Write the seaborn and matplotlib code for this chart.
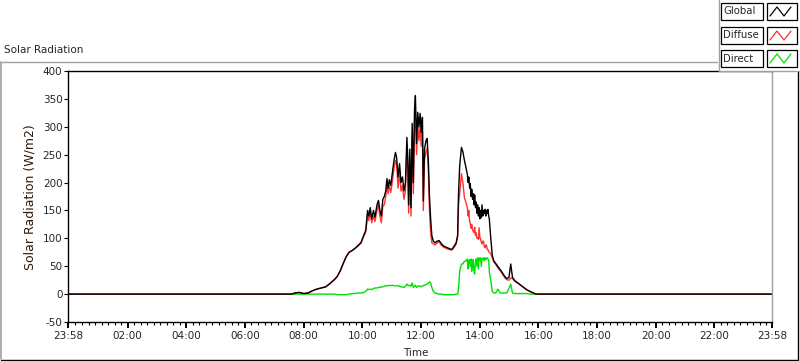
import matplotlib
matplotlib.use("Agg")
import matplotlib.pyplot as plt
from matplotlib.lines import Line2D
from matplotlib.patches import Rectangle
import seaborn as sns
import pandas as pd

# ---- data (hours of day, W/m2) ----
hours = [-0.033, 7.60, 7.70, 7.85, 8.00, 8.15, 8.30, 8.45, 8.60, 8.75, 8.90, 9.05, 9.15, 9.25,
         9.35, 9.45, 9.55, 9.65, 9.75, 9.85, 9.95, 10.05, 10.12, 10.18, 10.22, 10.27, 10.32,
         10.38, 10.43, 10.50, 10.55, 10.60, 10.65, 10.70, 10.75, 10.80, 10.84, 10.88, 10.92,
         10.97, 11.02, 11.08, 11.13, 11.17, 11.22, 11.27, 11.32, 11.37, 11.42, 11.47, 11.52,
         11.55, 11.58, 11.62, 11.66, 11.70, 11.74, 11.78, 11.81, 11.85, 11.89, 11.93, 11.97,
         12.01, 12.05, 12.08, 12.12, 12.17, 12.21, 12.25, 12.29, 12.33, 12.37, 12.42, 12.48,
         12.55, 12.62, 12.70, 12.78, 12.86, 12.95, 13.05, 13.12, 13.20, 13.25, 13.28, 13.32,
         13.38, 13.43, 13.48, 13.53, 13.58, 13.61, 13.63, 13.66, 13.68, 13.71, 13.73, 13.76,
         13.78, 13.81, 13.83, 13.86, 13.88, 13.91, 13.93, 13.96, 13.98, 14.01, 14.03, 14.06,
         14.08, 14.11, 14.13, 14.16, 14.18, 14.21, 14.23, 14.26, 14.28, 14.31, 14.33, 14.38,
         14.43, 14.48, 14.55, 14.62, 14.70, 14.78, 14.85, 14.92, 15.00, 15.06, 15.12, 15.20,
         15.30, 15.45, 15.60, 15.75, 15.92, 23.967]

global_rad = [0, 0, 2, 3, 1, 2, 6, 9, 11, 13, 19, 26, 32, 42,
              55, 67, 75, 78, 82, 87, 92, 105, 115, 150, 140, 155, 135,
              150, 138, 160, 168, 150, 140, 170, 175, 185, 207, 190, 205,
              195, 215, 240, 254, 245, 210, 234, 200, 210, 185, 200, 281,
              245, 160, 260, 155, 306, 200, 330, 356, 270, 326, 300, 324,
              290, 317, 167, 260, 275, 279, 241, 175, 135, 105, 95, 92,
              95, 96, 90, 86, 84, 82, 80, 85, 92, 105, 180, 230,
              263, 255, 240, 228, 215, 200, 210, 190, 198, 175, 188, 170,
              180, 160, 178, 155, 165, 145, 160, 140, 155, 135, 150, 137,
              160, 140, 150, 145, 152, 140, 150, 145, 152, 140, 135, 100,
              70, 60, 55, 50, 44, 38, 32, 28, 30, 54, 30, 24,
              20, 14, 8, 4, 0, 0]

diffuse_rad = [0, 0, 2, 3, 1, 2, 6, 9, 11, 13, 19, 26, 32, 42,
               55, 67, 75, 78, 82, 86, 91, 104, 112, 143, 132, 147, 128,
               140, 130, 150, 160, 140, 128, 158, 160, 175, 195, 180, 195,
               182, 200, 225, 240, 232, 190, 218, 185, 195, 170, 185, 262,
               230, 145, 245, 140, 285, 180, 310, 324, 250, 305, 275, 300,
               265, 290, 150, 240, 255, 262, 225, 150, 110, 92, 90, 88,
               92, 94, 87, 84, 82, 80, 79, 83, 90, 104, 160, 180,
               216, 200, 173, 165, 155, 140, 150, 130, 126, 118, 125, 115,
               113, 110, 120, 105, 110, 100, 101, 98, 119, 100, 100, 92,
               90, 95, 95, 85, 83, 88, 88, 80, 80, 76, 75, 72,
               65, 58, 53, 47, 42, 36, 30, 26, 25, 29, 28, 23,
               20, 14, 8, 4, 0, 0]

direct_rad = [0, 0, 0, 0, 0, 0, 0, 0, 0, 0, 0, 0, -1, -1,
              -1, -1, 0, 1, 1, 2, 2, 3, 5, 9, 8, 9, 8,
              10, 11, 11, 12, 12, 13, 13, 14, 15, 15, 15, 16,
              15, 16, 15, 15, 15, 15, 14, 13, 13, 12, 14, 18,
              16, 15, 16, 14, 20, 12, 14, 16, 12, 14, 15, 14,
              13, 15, 15, 16, 17, 18, 20, 22, 20, 12, 5, 2,
              1, 0, 0, -1, -1, -1, -1, -1, 0, 0, 9, 41,
              54, 54, 59, 59, 63, 45, 60, 62, 50, 63, 41, 60,
              62, 40, 36, 60, 63, 50, 65, 45, 65, 60, 65, 50,
              64, 62, 65, 60, 65, 62, 64, 65, 63, 60, 40, 25,
              5, 2, 2, 9, 2, 2, 2, 2, 10, 18, 2, 1,
              1, 1, 1, 0, 0, 0]

series_names = ["Global", "Diffuse", "Direct"]
series_colors = {"Global": "#000000", "Diffuse": "#ff3333", "Direct": "#00e000"}
y_ticks = [-50, 0, 50, 100, 150, 200, 250, 300, 350, 400]
x_tick_pos = [-0.033, 2, 4, 6, 8, 10, 12, 14, 16, 18, 20, 22, 23.967]
x_tick_labels = ["23:58", "02:00", "04:00", "06:00", "08:00", "10:00", "12:00",
                 "14:00", "16:00", "18:00", "20:00", "22:00", "23:58"]

df = pd.concat([
    pd.DataFrame({"Time": hours, "Value": direct_rad, "Series": "Direct"}),
    pd.DataFrame({"Time": hours, "Value": diffuse_rad, "Series": "Diffuse"}),
    pd.DataFrame({"Time": hours, "Value": global_rad, "Series": "Global"}),
])

sns.set_style("white")
plt.rcParams["font.family"] = ["DejaVu Sans"]

W, H = 800, 361
fig = plt.figure(figsize=(8, 3.61), dpi=100)
fig.patch.set_facecolor("white")

def fx(px):
    return px / W

def fy(py):
    return 1 - py / H

ax = fig.add_axes([fx(68), fy(322), fx(772) - fx(68), fy(71) - fy(322)])

sns.lineplot(data=df, x="Time", y="Value", hue="Series", palette=series_colors,
             hue_order=["Direct", "Diffuse", "Global"], estimator=None, sort=True,
             linewidth=1.0, legend=False, ax=ax)

ax.set_xlim(-0.033, 23.967)
ax.set_ylim(-50, 400)
ax.set_yticks(y_ticks)
ax.set_yticklabels([str(v) for v in y_ticks], fontsize=7.5)
ax.set_xticks(x_tick_pos)
ax.set_xticklabels(x_tick_labels, fontsize=7.5)
minor = [h + 2 / 9 * k for h in range(0, 24, 2) for k in range(1, 9)]
ax.set_xticks(minor, minor=True)
ax.tick_params(axis="x", which="major", direction="out", length=4.5, width=1.4,
               color="black", pad=2, bottom=True)
ax.tick_params(axis="x", which="minor", direction="out", length=2.5, width=0.8,
               color="black", bottom=True)
ax.tick_params(axis="y", which="major", direction="out", length=3, width=0.8,
               color="black", pad=1, left=True)
ax.set_xlabel("")
ax.set_ylabel("")
for side in ["left", "bottom", "top"]:
    ax.spines[side].set_color("black")
    ax.spines[side].set_linewidth(1.0)
ax.spines["right"].set_color("#a0a0a0")
ax.spines["right"].set_linewidth(1.0)

# labels
fig.text(fx(4), fy(50), "Solar Radiation", fontsize=7.5, va="center", ha="left")
fig.text(fx(30), fy(197), "Solar Radiation (W/m2)", fontsize=9, rotation=90,
         va="center", ha="center", color="#2e1a08")
fig.text(fx(416), fy(353), "Time", fontsize=7.5, va="center", ha="center")

# outer panel frame
fig.add_artist(Line2D([fx(0.5), fx(718)], [fy(61.5), fy(61.5)], color="#a0a0a0", lw=1.0,
                      transform=fig.transFigure))
fig.add_artist(Line2D([fx(0.8), fx(0.8)], [fy(61.5), fy(359)], color="#a0a0a0", lw=1.2,
                      transform=fig.transFigure))
fig.add_artist(Line2D([fx(0.5), fx(797.5)], [fy(359.5), fy(359.5)], color="black", lw=1.0,
                      transform=fig.transFigure))
fig.add_artist(Line2D([fx(797.5), fx(797.5)], [fy(71), fy(359.5)], color="black", lw=1.0,
                      transform=fig.transFigure))

# legend panel
fig.add_artist(Rectangle((fx(718), fy(71)), fx(800) - fx(718), fy(0) - fy(71),
                         transform=fig.transFigure, facecolor="white", edgecolor="none",
                         zorder=5))
fig.add_artist(Line2D([fx(718.5), fx(718.5)], [fy(0), fy(71)], color="#a0a0a0", lw=1.0,
                      transform=fig.transFigure, zorder=6))
fig.add_artist(Line2D([fx(718.5), fx(800)], [fy(71), fy(71)], color="#a0a0a0", lw=1.0,
                      transform=fig.transFigure, zorder=6))
row_tops = [3, 27, 50]
for name, top in zip(series_names, row_tops):
    bot = top + 17
    fig.add_artist(Rectangle((fx(721), fy(bot)), fx(763) - fx(721), fy(top) - fy(bot),
                             transform=fig.transFigure, facecolor="white",
                             edgecolor="black", lw=0.9, zorder=7))
    fig.text(fx(723), fy((top + bot) / 2), name, fontsize=7.3, va="center", ha="left",
             zorder=8)
    fig.add_artist(Rectangle((fx(767), fy(bot)), fx(797) - fx(767), fy(top) - fy(bot),
                             transform=fig.transFigure, facecolor="white",
                             edgecolor="black", lw=0.9, zorder=7))
    zx = [770, 777, 784, 791]
    zy = [bot - 4, top + 4, bot - 4, top + 4]
    fig.add_artist(Line2D([fx(v) for v in zx], [fy(v) for v in zy],
                          color=series_colors[name], lw=0.9, transform=fig.transFigure,
                          zorder=8))

fig.savefig("out.png", dpi=100, facecolor="white")
